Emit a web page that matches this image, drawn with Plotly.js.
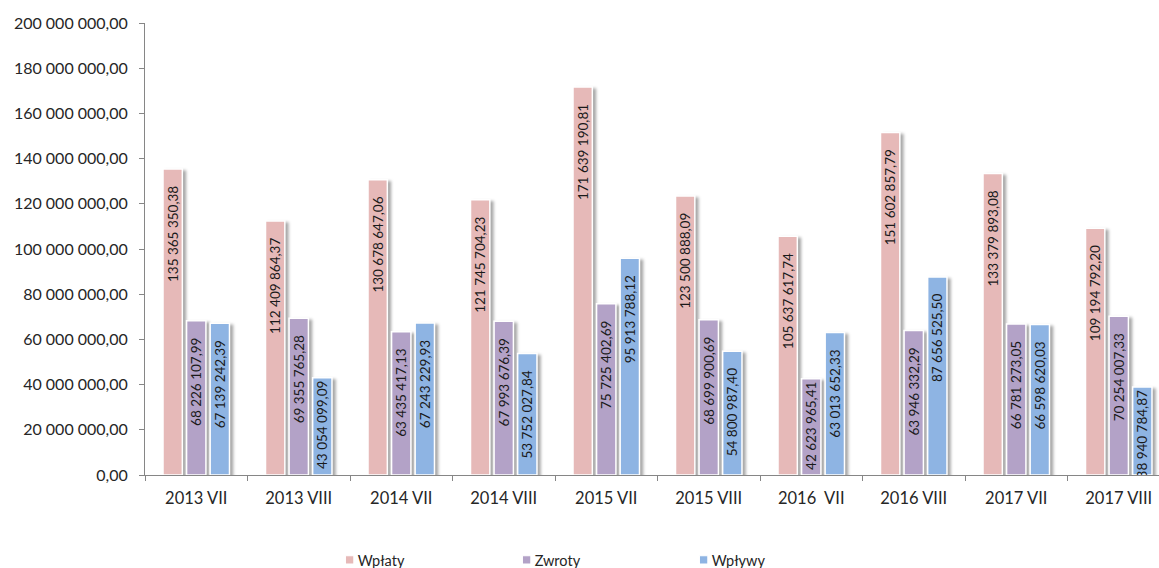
<!DOCTYPE html>
<html>
<head>
<meta charset="utf-8">
<script src="https://cdn.plot.ly/plotly-3.0.1.min.js"></script>
<style>
html,body{margin:0;padding:0;background:#fff;overflow:hidden;width:1159px;height:568px;}
#chart{width:1170px;height:568px;}
.trace.bars .point path{filter:drop-shadow(3px 2px 1.5px rgba(0,0,0,0.35));}
.legend .legendpoints path{transform-box:fill-box;transform-origin:center;transform:translateX(15px) scale(0.7);}
.legend .legendtext{transform:translateX(-17px);}
</style>
</head>
<body>
<div id="chart"></div>
<script>
const categories = ["2013 VII","2013 VIII","2014 VII","2014 VIII","2015 VII","2015 VIII","2016\u00a0 VII","2016 VIII","2017 VII","2017 VIII"];
const wplaty = [135365350.38,112409864.37,130678647.06,121745704.23,171639190.81,123500888.09,105637617.74,151602857.79,133379893.08,109194792.20];
const zwroty = [68226107.99,69355765.28,63435417.13,67993676.39,75725402.69,68699900.69,42623965.41,63946332.29,66781273.05,70254007.33];
const wplywy = [67139242.39,43054099.09,67243229.93,53752027.84,95913788.12,54800987.40,63013652.33,87656525.50,66598620.03,38940784.87];
const seriesNames = ["Wpłaty","Zwroty","Wpływy"];
const colors = ["#E6B9B8","#B3A2C7","#8EB4E3"];
const yTicks = [0,20000000,40000000,60000000,80000000,100000000,120000000,140000000,160000000,180000000,200000000];

const FONT = "Lato, 'Liberation Sans', sans-serif";
const Y_MAX = 200000000, PLOT_H = 568 - 23 - 93;
// label sits near the top of tall bars; in short bars it moves up to the bar top (like Excel)
function tmpl(v){
  const px = v / Y_MAX * PLOT_H;
  return '%{y:,.2f}' + (px > 118 ? '\u00a0\u00a0\u00a0\u00a0' : '');
}
function mk(name, vals, color){
  return {
    type:'bar', name:name, x:categories, y:vals,
    marker:{color:color, line:{color:'#ffffff', width:1.5}},
    texttemplate:vals.map(tmpl),
    textposition:'inside', insidetextanchor:'end', textangle:-90,
    constraintext:'none', cliponaxis:true,
    textfont:{family:FONT, size:13.5, color:'#1a1a1a'},
    hoverinfo:'skip'
  };
}
const data = [mk(seriesNames[0], wplaty, colors[0]), mk(seriesNames[1], zwroty, colors[1]), mk(seriesNames[2], wplywy, colors[2])];

const layout = {
  width:1170, height:568,
  margin:{l:145, r:0, t:23, b:93},
  paper_bgcolor:'#fff', plot_bgcolor:'#fff',
  separators:', ',
  barmode:'group', bargap:0.31, bargroupgap:0.18,
  font:{family:FONT, color:'#262626', size:16},
  showlegend:true,
  legend:{orientation:'h', x:0.185, xanchor:'left', xref:'paper',
          y:8/568, yanchor:'middle', yref:'container',
          entrywidth:132, entrywidthmode:'pixels', traceorder:'normal',
          font:{family:FONT, size:14.5, color:'#262626'}, itemclick:false},
  xaxis:{type:'category', showline:true, linecolor:'#868686', linewidth:1,
         ticks:'outside', ticklen:5, tickcolor:'#868686', tickson:'boundaries',
         showgrid:false, zeroline:false, ticklabelstandoff:8,
         tickfont:{family:FONT, size:16.5, color:'#262626'}, fixedrange:true},
  yaxis:{range:[0,Y_MAX], tickvals:yTicks, tickformat:',.2f',
         showline:true, linecolor:'#868686', linewidth:1,
         ticks:'outside', ticklen:5, tickcolor:'#868686',
         showgrid:false, zeroline:false, ticklabelstandoff:8,
         tickfont:{family:FONT, size:16, color:'#262626'}, fixedrange:true}
};
Plotly.newPlot('chart', data, layout, {displayModeBar:false, staticPlot:true});
</script>
</body>
</html>
